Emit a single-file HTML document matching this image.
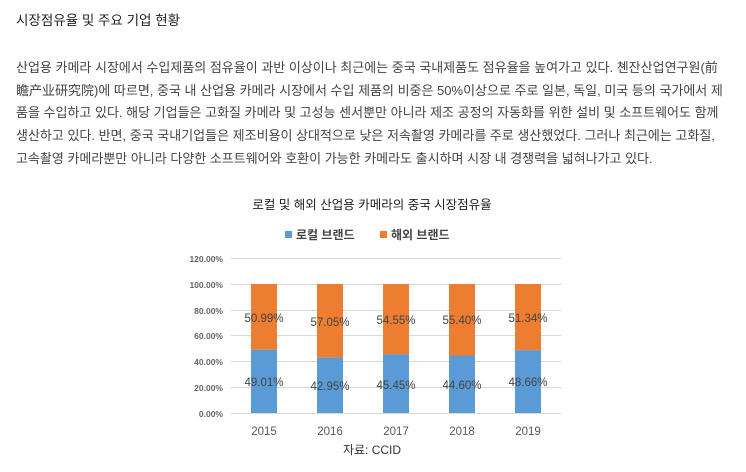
<!DOCTYPE html>
<html><head><meta charset="utf-8"><style>
body{margin:0;background:#fff;width:746px;height:472px;overflow:hidden;font-family:"Liberation Sans","Noto Sans CJK KR","NanumGothic",sans-serif;color:#333}
.t{position:absolute;left:16px;top:9px;font-size:13.5px;color:#222}
.p{position:absolute;left:16px;top:57px;font-size:13px;line-height:22.7px;color:#444;white-space:nowrap}
</style></head><body>
<div class="t">시장점유율 및 주요 기업 현황</div>
<div class="p">산업용 카메라 시장에서 수입제품의 점유율이 과반 이상이나 최근에는 중국 국내제품도 점유율을 높여가고 있다. 쳰잔산업연구원(前<br>瞻产业研究院)에 따르면, 중국 내 산업용 카메라 시장에서 수입 제품의 비중은 50%이상으로 주로 일본, 독일, 미국 등의 국가에서 제<br>품을 수입하고 있다. 해당 기업들은 고화질 카메라 및 고성능 센서뿐만 아니라 제조 공정의 자동화를 위한 설비 및 소프트웨어도 함께<br>생산하고 있다. 반면, 중국 국내기업들은 제조비용이 상대적으로 낮은 저속촬영 카메라를 주로 생산했었다. 그러나 최근에는 고화질,<br>고속촬영 카메라뿐만 아니라 다양한 소프트웨어와 호환이 가능한 카메라도 출시하며 시장 내 경쟁력을 넓혀나가고 있다.</div>
<svg width="746" height="472" style="position:absolute;left:0;top:0" font-family="Liberation Sans, Noto Sans CJK KR, sans-serif">
<text x="372" y="209" font-size="12.5" text-anchor="middle" fill="#222">로컬 및 해외 산업용 카메라의 중국 시장점유율</text>
<rect x="285" y="231" width="7" height="7" fill="#5b9bd5"/><text x="296" y="239" font-size="12" fill="#444" font-weight="bold">로컬 브랜드</text>
<rect x="380" y="231" width="7" height="7" fill="#ed7d31"/><text x="391" y="239" font-size="12" fill="#444" font-weight="bold">해외 브랜드</text>
<g stroke="#d9d9d9" stroke-width="1">
<line x1="231" x2="561" y1="258.5" y2="258.5"/><line x1="231" x2="561" y1="284.5" y2="284.5"/><line x1="231" x2="561" y1="310.5" y2="310.5"/><line x1="231" x2="561" y1="335.5" y2="335.5"/><line x1="231" x2="561" y1="361.5" y2="361.5"/><line x1="231" x2="561" y1="387.5" y2="387.5"/><line x1="231" x2="561" y1="413.5" y2="413.5"/>
</g>
<g font-size="8.5" fill="#666" text-anchor="end" font-weight="bold">
<text x="223" y="262">120.00%</text><text x="223" y="288">100.00%</text><text x="223" y="314">80.00%</text><text x="223" y="339">60.00%</text><text x="223" y="365">40.00%</text><text x="223" y="391">20.00%</text><text x="223" y="417">0.00%</text>
</g>
<g>
<rect x="251" y="284" width="26" height="65.8" fill="#ed7d31"/><rect x="251" y="349.8" width="26" height="63.2" fill="#5b9bd5"/>
<rect x="317" y="284" width="26" height="73.6" fill="#ed7d31"/><rect x="317" y="357.6" width="26" height="55.4" fill="#5b9bd5"/>
<rect x="383" y="284" width="26" height="70.4" fill="#ed7d31"/><rect x="383" y="354.4" width="26" height="58.6" fill="#5b9bd5"/>
<rect x="449" y="284" width="26" height="71.5" fill="#ed7d31"/><rect x="449" y="355.5" width="26" height="57.5" fill="#5b9bd5"/>
<rect x="515" y="284" width="26" height="66.2" fill="#ed7d31"/><rect x="515" y="350.2" width="26" height="62.8" fill="#5b9bd5"/>
</g>
<g font-size="11.5" fill="#444" text-anchor="middle">
<text x="264" y="322">50.99%</text><text x="330" y="326">57.05%</text><text x="396" y="324">54.55%</text><text x="462" y="324">55.40%</text><text x="528" y="322">51.34%</text>
<text x="264" y="386">49.01%</text><text x="330" y="390">42.95%</text><text x="396" y="389">45.45%</text><text x="462" y="389">44.60%</text><text x="528" y="386">48.66%</text>
</g>
<g font-size="11.5" fill="#595959" text-anchor="middle">
<text x="264" y="435">2015</text><text x="330" y="435">2016</text><text x="396" y="435">2017</text><text x="462" y="435">2018</text><text x="528" y="435">2019</text>
</g>
<text x="372" y="454" font-size="12" fill="#333" text-anchor="middle">자료: CCID</text>
</svg>
</body></html>
